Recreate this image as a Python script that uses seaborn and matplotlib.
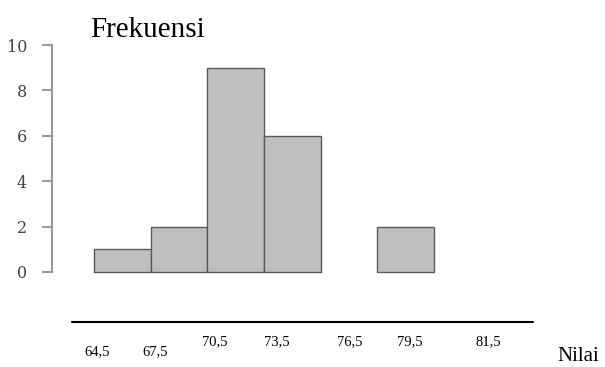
import numpy as np
import pandas as pd
import seaborn as sns
import matplotlib.pyplot as plt
from matplotlib.lines import Line2D

# class boundaries and frequencies
bin_edges = [64.5, 67.5, 70.5, 73.5, 76.5, 79.5, 82.5]
frequencies = [1, 2, 9, 6, 0, 2]
y_ticks = [0, 2, 4, 6, 8, 10]
x_labels = ["64,5", "67,5", "70,5", "73,5", "76,5", "79,5", "81,5"]

# label placement (pixel x, pixel y) as drawn in the source picture
label_px = [97, 155, 215, 277, 350, 410, 488]
label_py = [352, 352, 342, 342, 342, 342, 342]

W, H = 605, 367
fig = plt.figure(figsize=(W / 100, H / 100), dpi=100)
sns.set_style("white")

ax = fig.add_axes([52 / W, (H - 272) / H, 488 / W, 227 / H])

df = pd.DataFrame({
    "mid": [(a + b) / 2 for a, b in zip(bin_edges[:-1], bin_edges[1:])],
    "freq": frequencies,
})
sns.histplot(data=df, x="mid", weights="freq", bins=bin_edges, ax=ax,
             color="#bfbfbf", edgecolor="#5a5a5a", linewidth=1.0, alpha=1)

ax.set_xlim(62.28, 88.11)
ax.set_ylim(0, 10)
ax.set_xlabel("")
ax.set_ylabel("")
ax.set_xticks([])
ax.set_yticks(y_ticks)
ax.set_yticklabels([str(t) for t in y_ticks], family="DejaVu Serif",
                   fontsize=11.5, color="#444444")
for s in ["top", "right", "bottom"]:
    ax.spines[s].set_visible(False)
ax.spines["left"].set_color("#999999")
ax.spines["left"].set_linewidth(1.5)
ax.tick_params(axis="y", direction="out", length=7, width=1.5,
               color="#999999", pad=11, left=True)
for p in ax.patches:
    p.set_clip_on(False)
    # empty classes get no outline
    if p.get_height() == 0:
        p.set_visible(False)

# baseline under the chart
fig.add_artist(Line2D([72 / W, 533 / W], [1 - 322 / H, 1 - 322 / H],
                      color="black", linewidth=1.5))

for lab, px, py in zip(x_labels, label_px, label_py):
    fig.text(px / W, 1 - py / H, lab, ha="center", va="center",
             family="Liberation Serif", fontsize=10.5, color="black")

fig.text(90 / W, 1 - 37 / H, "Frekuensi", ha="left", va="baseline",
         family="Liberation Serif", fontsize=21, color="black")
fig.text(557 / W, 1 - 347 / H, "Nilai", ha="left", va="top",
         family="Liberation Serif", fontsize=15, color="black")

fig.savefig("out.png", dpi=100)
